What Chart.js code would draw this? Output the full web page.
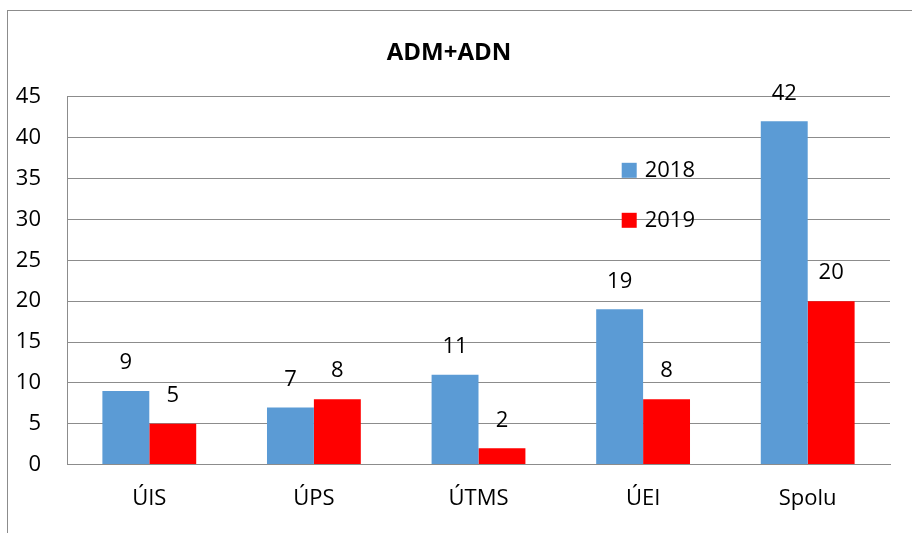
<!DOCTYPE html>
<html lang="sk">
<head>
  <meta charset="UTF-8" />
  <title>ADM+ADN</title>
  <script src="https://cdn.jsdelivr.net/npm/chart.js"></script>
  <style>
    body {
      margin: 0;
      background: #fff;
      overflow: hidden;
    }
    #frame {
      position: absolute;
      left: 7px;
      top: 10px;
      width: 920px;
      height: 540px;
      border: 1px solid #8c8c8c;
    }
    #wrap {
      position: absolute;
      left: 8px;
      top: 11px;
      width: 904px;
      height: 522px;
    }
  </style>
</head>
<body>
  <div id="frame"></div>
  <div id="wrap"><canvas id="chart"></canvas></div>

  <script>
    const categories = ['ÚIS', 'ÚPS', 'ÚTMS', 'ÚEI', 'Spolu'];
    const values2018 = [9, 7, 11, 19, 42];
    const values2019 = [5, 8, 2, 8, 20];
    const seriesNames = ['2018', '2019'];
    const yTicks = { min: 0, max: 45, step: 5 };

    const FONT = '"Open Sans", "Noto Sans", sans-serif';

    // value labels above each bar
    const barLabels = {
      id: 'barLabels',
      afterDatasetsDraw(chart) {
        const ctx = chart.ctx;
        ctx.save();
        ctx.font = '22px ' + FONT;
        ctx.fillStyle = '#000';
        ctx.textAlign = 'center';
        ctx.textBaseline = 'middle';
        chart.data.datasets.forEach((ds, i) => {
          chart.getDatasetMeta(i).data.forEach((bar, j) => {
            ctx.fillText(String(ds.data[j]), bar.x, bar.y - 28);
          });
        });
        ctx.restore();
      }
    };

    // legend placed inside the plot area, as in the original
    const innerLegend = {
      id: 'innerLegend',
      afterDraw(chart) {
        const area = chart.chartArea;
        const ctx = chart.ctx;
        const x = area.left + (area.right - area.left) * 0.674;
        let y = area.top + 74;
        ctx.save();
        ctx.font = '22px ' + FONT;
        ctx.textBaseline = 'middle';
        chart.data.datasets.forEach(ds => {
          ctx.fillStyle = ds.backgroundColor;
          ctx.fillRect(x, y - 8, 15, 15);
          ctx.fillStyle = '#000';
          ctx.fillText(ds.label, x + 23, y);
          y += 50;
        });
        ctx.restore();
      }
    };

    new Chart(document.getElementById('chart'), {
      type: 'bar',
      data: {
        labels: categories,
        datasets: [
          {
            label: seriesNames[0],
            data: values2018,
            backgroundColor: '#5b9bd5',
            categoryPercentage: 0.57,
            barPercentage: 1.0
          },
          {
            label: seriesNames[1],
            data: values2019,
            backgroundColor: '#ff0000',
            categoryPercentage: 0.57,
            barPercentage: 1.0
          }
        ]
      },
      options: {
        responsive: true,
        maintainAspectRatio: false,
        animation: false,
        layout: {
          padding: { left: 0, right: 22, top: 0, bottom: 0 }
        },
        plugins: {
          legend: { display: false },
          tooltip: { enabled: false },
          title: {
            display: true,
            text: 'ADM+ADN',
            color: '#000',
            font: { family: FONT, size: 24, weight: 'bold' },
            padding: { top: 28, bottom: 29 }
          }
        },
        scales: {
          x: {
            grid: { display: false, drawTicks: false },
            border: { display: true, color: '#8c8c8c' },
            ticks: {
              color: '#000',
              font: { family: FONT, size: 22 },
              padding: 21
            }
          },
          y: {
            min: yTicks.min,
            max: yTicks.max,
            afterFit(scale) { scale.width = 59; },
            grid: { color: '#8c8c8c', drawTicks: false },
            border: { display: true, color: '#8c8c8c' },
            ticks: {
              stepSize: yTicks.step,
              color: '#000',
              font: { family: FONT, size: 22 },
              padding: 26
            }
          }
        }
      },
      plugins: [barLabels, innerLegend]
    });
  </script>
</body>
</html>
